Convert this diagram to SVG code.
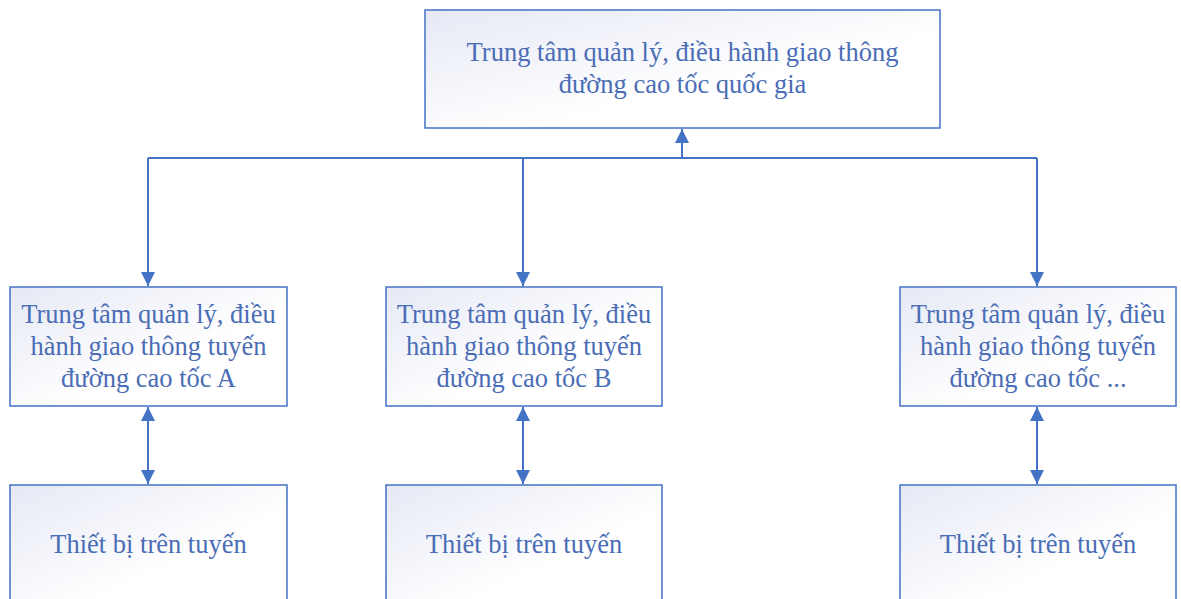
<svg xmlns="http://www.w3.org/2000/svg" width="1181" height="599" viewBox="0 0 1181 599">
<style>
.box{fill:url(#g);stroke:#4472c4;stroke-width:1.5}
.t{font-family:"Liberation Serif","Times New Roman",serif;font-size:26.5px;fill:#4a6db5;text-anchor:middle}
.c{fill:none;stroke:#4472c4;stroke-width:2}
</style>
<defs>
<linearGradient id="g" x1="0" y1="0" x2="1" y2="1">
<stop offset="0" stop-color="#e6e9f5"/>
<stop offset="0.6" stop-color="#ffffff"/>
</linearGradient>
<marker id="ah" markerUnits="userSpaceOnUse" markerWidth="16" markerHeight="16" viewBox="0 0 16 16" refX="14" refY="8" orient="auto-start-reverse">
<path d="M0,1 L14,8 L0,15 Z" fill="#4472c4"/>
</marker>
</defs>
<g id="connectors">
<path class="c" d="M148,158 H1037"/>
<path class="c" d="M682,158 V129" marker-end="url(#ah)"/>
<path class="c" d="M148,158 V286" marker-end="url(#ah)"/>
<path class="c" d="M523,158 V286" marker-end="url(#ah)"/>
<path class="c" d="M1037,158 V286" marker-end="url(#ah)"/>
<path class="c" d="M148,407 V484" marker-start="url(#ah)" marker-end="url(#ah)"/>
<path class="c" d="M523,407 V484" marker-start="url(#ah)" marker-end="url(#ah)"/>
<path class="c" d="M1037,407 V484" marker-start="url(#ah)" marker-end="url(#ah)"/>
</g>
<g id="national">
<rect class="box" x="425" y="10" width="515" height="118"/>
<text class="t" x="682.5" y="61">Trung tâm quản lý, điều hành giao thông</text>
<text class="t" x="682.5" y="93">đường cao tốc quốc gia</text>
</g>
<g id="centerA">
<rect class="box" x="10" y="287" width="277" height="119"/>
<text class="t" x="148.5" y="323">Trung tâm quản lý, điều</text>
<text class="t" x="148.5" y="355">hành giao thông tuyến</text>
<text class="t" x="148.5" y="387">đường cao tốc A</text>
</g>
<g id="centerB">
<rect class="box" x="386" y="287" width="276" height="119"/>
<text class="t" x="524" y="323">Trung tâm quản lý, điều</text>
<text class="t" x="524" y="355">hành giao thông tuyến</text>
<text class="t" x="524" y="387">đường cao tốc B</text>
</g>
<g id="centerC">
<rect class="box" x="900" y="287" width="276" height="119"/>
<text class="t" x="1038" y="323">Trung tâm quản lý, điều</text>
<text class="t" x="1038" y="355">hành giao thông tuyến</text>
<text class="t" x="1038" y="387">đường cao tốc ...</text>
</g>
<g id="deviceA">
<rect class="box" x="10" y="485" width="277" height="130"/>
<text class="t" x="148.5" y="553">Thiết bị trên tuyến</text>
</g>
<g id="deviceB">
<rect class="box" x="386" y="485" width="276" height="130"/>
<text class="t" x="524" y="553">Thiết bị trên tuyến</text>
</g>
<g id="deviceC">
<rect class="box" x="900" y="485" width="276" height="130"/>
<text class="t" x="1038" y="553">Thiết bị trên tuyến</text>
</g>
</svg>
